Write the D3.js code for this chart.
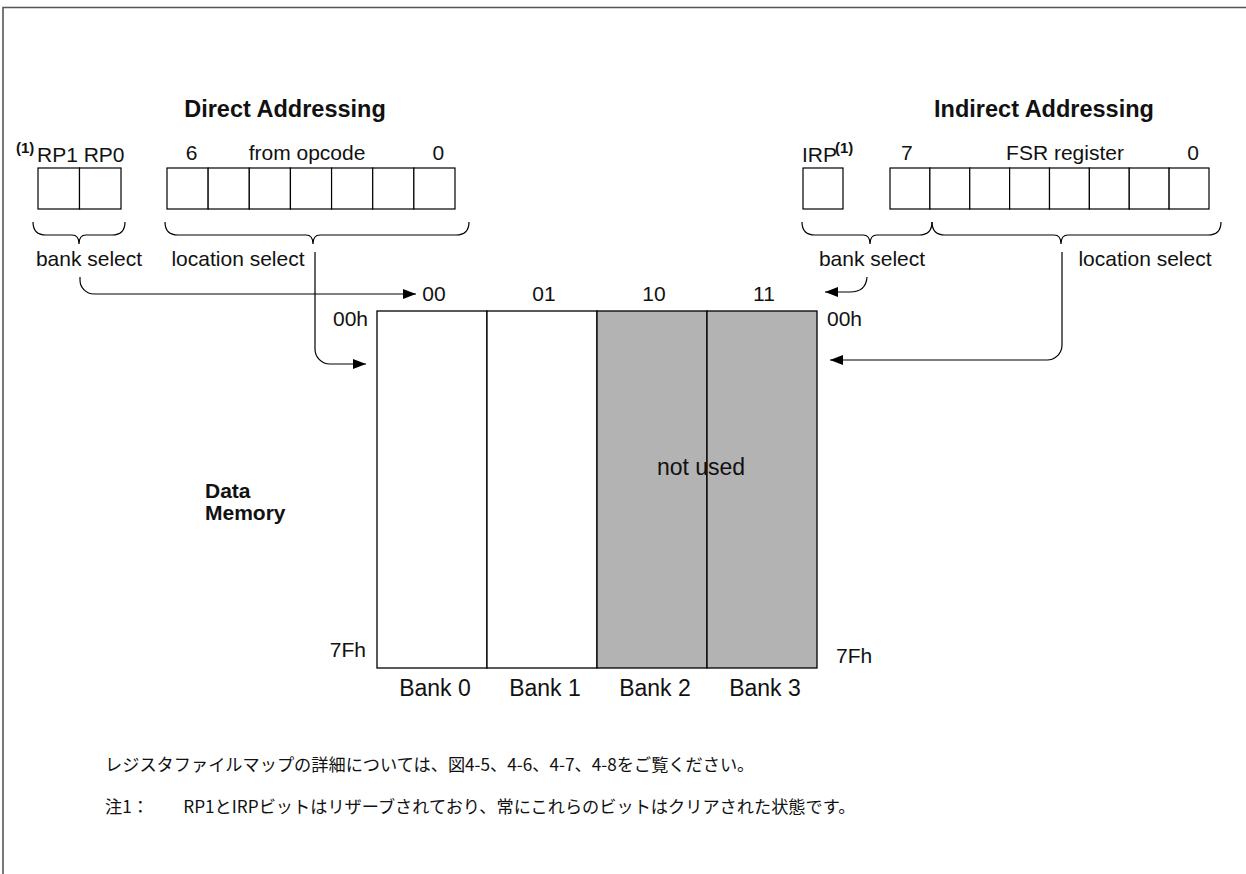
<!DOCTYPE html>
<html><head><meta charset="utf-8">
<script src="https://cdn.jsdelivr.net/npm/d3@7"></script>
<style>
body{margin:0;background:#fff}
svg{display:block}
text{font-family:"Liberation Sans",Arial,Helvetica,sans-serif;fill:#111}
.jp{font-family:"Noto Sans CJK JP","Noto Sans CJK SC",sans-serif;}
</style>
</head><body><svg id="c" width="1246" height="874"></svg>
<script>
// ---- data ----
const banks = ["Bank 0","Bank 1","Bank 2","Bank 3"];
const bankCodes = ["00","01","10","11"];
const bankUsed = [true,true,false,false];
const addrLabels = ["00h","7Fh"];
const addrValues = [0x00,0x7F];
const directBankBits = ["RP1","RP0"];
const directBits = [6,5,4,3,2,1,0];
const indirectBankBits = ["IRP"];
const indirectBits = [7,6,5,4,3,2,1,0];
const titles = ["Direct Addressing","Indirect Addressing"];
const fieldNames = ["bank select","location select"];
const notes = [
 "レジスタファイルマップの詳細については、図4-5、4-6、4-7、4-8をご覧ください。",
 "注1：\u3000\u3000RP1とIRPビットはリザーブされており、常にこれらのビットはクリアされた状態です。"
];

const svg = d3.select("#c");
const FS = 21;

// frame
svg.append("path").attr("d","M3,874 L3,7.5 L1246,7.5").attr("fill","none").attr("stroke","#555").attr("stroke-width",1.6);

// arrow marker
const defs = svg.append("defs");
defs.append("marker").attr("id","ah").attr("markerUnits","userSpaceOnUse")
 .attr("markerWidth",14).attr("markerHeight",12).attr("refX",13).attr("refY",6).attr("orient","auto")
 .append("path").attr("d","M0,1 L13,6 L0,11 Z").attr("fill","#000");

// scales
const xBank = d3.scaleBand().domain(banks).range([377,817]);
const yAddr = d3.scaleLinear().domain([0x00,0x7F]).range([311,668]);

const xRP = d3.scaleBand().domain(directBankBits).range([38,121]);
const xDir = d3.scaleBand().domain(directBits).range([167,455]);
const xIRP = d3.scaleBand().domain(indirectBankBits).range([803,843]);
const xInd = d3.scaleBand().domain(indirectBits).range([890,1209]);
const boxTop = 168, boxBot = 209;

// memory banks
const g = svg.append("g");
g.selectAll("rect.bank").data(banks).join("rect").attr("class","bank")
 .attr("x",d=>xBank(d)).attr("y",yAddr(0x00))
 .attr("width",xBank.bandwidth()).attr("height",yAddr(0x7F)-yAddr(0x00))
 .attr("fill",(d,i)=>bankUsed[i]?"#fff":"#b3b3b3").attr("stroke","#000").attr("stroke-width",1.3);

g.selectAll("text.code").data(bankCodes).join("text").attr("class","code")
 .attr("x",(d,i)=>xBank(banks[i])+xBank.bandwidth()/2+2).attr("y",301)
 .attr("text-anchor","middle").attr("font-size",FS).text(d=>d);

g.selectAll("text.bname").data(banks).join("text").attr("class","bname")
 .attr("x",d=>xBank(d)+xBank.bandwidth()/2+3).attr("y",696)
 .attr("text-anchor","middle").attr("font-size",23).text(d=>d);

// not used label
const unused = banks.filter((d,i)=>!bankUsed[i]);
g.append("text").attr("x",(xBank(unused[0])+xBank(unused[unused.length-1])+xBank.bandwidth())/2-6)
 .attr("y",475).attr("text-anchor","middle").attr("font-size",23).text("not used");

// address labels
g.append("text").attr("x",368).attr("y",yAddr(addrValues[0])+15).attr("text-anchor","end").attr("font-size",FS).text(addrLabels[0]);
g.append("text").attr("x",827).attr("y",yAddr(addrValues[0])+15).attr("font-size",FS).text(addrLabels[0]);
g.append("text").attr("x",366).attr("y",yAddr(addrValues[1])-11).attr("text-anchor","end").attr("font-size",FS).text(addrLabels[1]);
g.append("text").attr("x",836).attr("y",yAddr(addrValues[1])-5).attr("font-size",FS).text(addrLabels[1]);

// Data Memory
g.append("text").attr("x",205).attr("y",498).attr("font-size",21).attr("font-weight","bold").text("Data");
g.append("text").attr("x",205).attr("y",520).attr("font-size",21).attr("font-weight","bold").text("Memory");

// titles
g.append("text").attr("x",285).attr("y",117).attr("text-anchor","middle").attr("font-size",23.5).attr("font-weight","bold").text(titles[0]);
g.append("text").attr("x",1044).attr("y",117).attr("text-anchor","middle").attr("font-size",23.5).attr("font-weight","bold").text(titles[1]);

// register boxes
function boxes(scale, dom){
  g.selectAll(null).data(dom).join("rect")
   .attr("x",d=>scale(d)).attr("y",boxTop).attr("width",scale.bandwidth()).attr("height",boxBot-boxTop)
   .attr("fill","#fff").attr("stroke","#000").attr("stroke-width",1.2);
}
boxes(xRP,directBankBits); boxes(xDir,directBits); boxes(xIRP,indirectBankBits); boxes(xInd,indirectBits);

// register labels
g.append("text").attr("x",16).attr("y",153).attr("font-size",15).attr("font-weight","bold").text("(1)");
g.append("text").attr("x",37).attr("y",162).attr("font-size",FS).text(directBankBits.join(" "));
g.append("text").attr("x",xDir(directBits[0])+xDir.bandwidth()/2+4).attr("y",160).attr("text-anchor","middle").attr("font-size",FS).text(directBits[0]);
g.append("text").attr("x",307).attr("y",160).attr("text-anchor","middle").attr("font-size",FS).text("from opcode");
g.append("text").attr("x",xDir(directBits[directBits.length-1])+xDir.bandwidth()/2+4).attr("y",160).attr("text-anchor","middle").attr("font-size",FS).text(directBits[directBits.length-1]);

g.append("text").attr("x",802).attr("y",162).attr("font-size",FS).text(indirectBankBits[0]);
g.append("text").attr("x",835).attr("y",153).attr("font-size",15).attr("font-weight","bold").text("(1)");
g.append("text").attr("x",xInd(indirectBits[0])+xInd.bandwidth()/2-3).attr("y",160).attr("text-anchor","middle").attr("font-size",FS).text(indirectBits[0]);
g.append("text").attr("x",1065).attr("y",160).attr("text-anchor","middle").attr("font-size",FS).text("FSR register");
g.append("text").attr("x",xInd(indirectBits[indirectBits.length-1])+xInd.bandwidth()/2+4).attr("y",160).attr("text-anchor","middle").attr("font-size",FS).text(indirectBits[indirectBits.length-1]);

// braces
function brace(x0,x1,tip){
  const yT=222,yM=235,yP=244;
  const p=`M${x0},${yT} Q${x0},${yM} ${x0+13},${yM} L${tip-7},${yM} Q${tip},${yM} ${tip},${yP} Q${tip},${yM} ${tip+7},${yM} L${x1-13},${yM} Q${x1},${yM} ${x1},${yT}`;
  g.append("path").attr("d",p).attr("fill","none").attr("stroke","#000").attr("stroke-width",1.2);
}
brace(33,125,79); brace(165,469,313); brace(802,932,870); brace(932,1221,1061);

// field labels
g.append("text").attr("x",89).attr("y",266).attr("text-anchor","middle").attr("font-size",FS).text(fieldNames[0]);
g.append("text").attr("x",238).attr("y",266).attr("text-anchor","middle").attr("font-size",FS).text(fieldNames[1]);
g.append("text").attr("x",872).attr("y",266).attr("text-anchor","middle").attr("font-size",FS).text(fieldNames[0]);
g.append("text").attr("x",1145).attr("y",266).attr("text-anchor","middle").attr("font-size",FS).text(fieldNames[1]);

// connector arrows
function conn(d){
  g.append("path").attr("d",d).attr("fill","none").attr("stroke","#000").attr("stroke-width",1.2).attr("marker-end","url(#ah)");
}
let p = d3.path(); p.moveTo(80,277); p.lineTo(80,280); p.arcTo(80,294,94,294,14); p.lineTo(416,294); conn(p.toString());
p = d3.path(); p.moveTo(315,252); p.arcTo(315,364,329,364,15); p.lineTo(366,364); conn(p.toString());
p = d3.path(); p.moveTo(867,277); p.quadraticCurveTo(866,292,850,292); p.lineTo(825,292); conn(p.toString());
p = d3.path(); p.moveTo(1062,252); p.arcTo(1062,360,1047,360,15); p.lineTo(830,360); conn(p.toString());

// notes
svg.selectAll("text.note").data(notes).join("text").attr("class","note jp")
 .attr("x",105).attr("y",(d,i)=>771+i*42).attr("font-size",17.2).text(d=>d);
</script>
</body></html>
